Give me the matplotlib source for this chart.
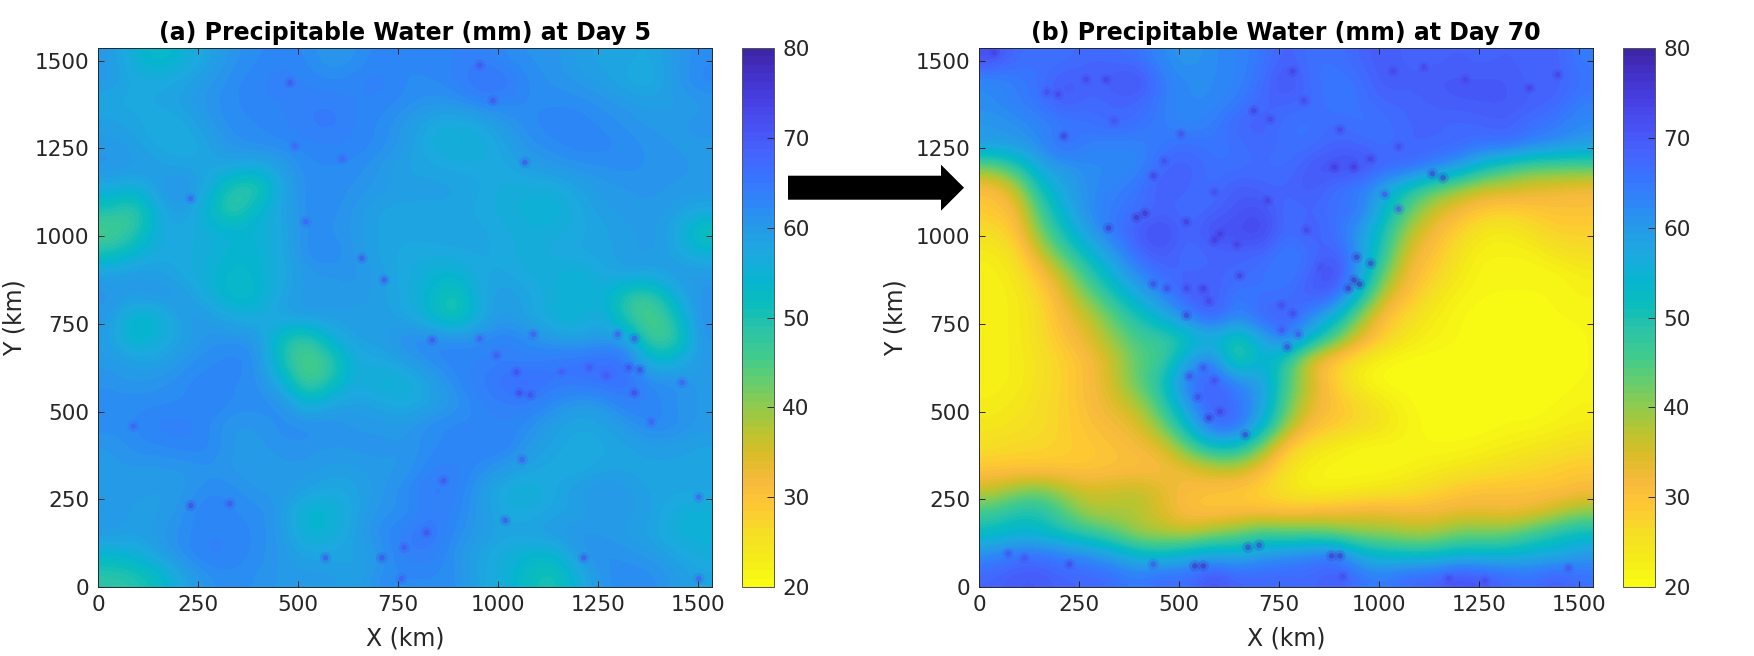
import numpy as np
import matplotlib
matplotlib.use('Agg')
import matplotlib.pyplot as plt
from matplotlib.colors import LinearSegmentedColormap
from matplotlib.patches import FancyArrow
from matplotlib.transforms import IdentityTransform

# coarse fields, top row first (mm), cell size about 61 km
pw_day5 = [
    [60, 55, 52, 55, 58, 61, 62, 63, 62, 60, 61, 63, 62, 63, 63, 64, 62, 61, 61, 59, 58, 58, 57, 60, 62],
    [60, 57, 57, 58, 60, 62, 63, 64, 63, 62, 63, 64, 62, 62, 63, 66, 66, 62, 61, 60, 59, 57, 56, 60, 63],
    [57, 57, 58, 59, 61, 62, 63, 63, 64, 64, 63, 63, 62, 61, 61, 63, 63, 62, 62, 62, 61, 60, 59, 59, 60],
    [59, 58, 56, 57, 60, 62, 62, 63, 64, 65, 63, 62, 60, 57, 56, 57, 60, 62, 63, 63, 62, 61, 60, 60, 61],
    [60, 59, 57, 56, 58, 61, 62, 62, 63, 63, 63, 62, 60, 56, 55, 55, 58, 61, 62, 63, 63, 62, 61, 60, 60],
    [61, 60, 59, 58, 58, 58, 56, 59, 62, 62, 62, 60, 58, 58, 57, 57, 57, 59, 60, 61, 61, 62, 61, 61, 60],
    [57, 55, 60, 62, 57, 48, 47, 58, 62, 62, 61, 60, 59, 59, 59, 58, 56, 56, 56, 58, 60, 60, 61, 60, 60],
    [50, 46, 57, 60, 53, 46, 54, 58, 62, 62, 60, 58, 58, 58, 58, 57, 56, 55, 54, 57, 59, 60, 60, 59, 58],
    [44, 48, 57, 57, 56, 55, 55, 57, 62, 61, 60, 58, 58, 58, 59, 58, 57, 56, 56, 57, 58, 59, 60, 58, 49],
    [50, 54, 57, 57, 56, 54, 54, 57, 62, 63, 60, 58, 57, 57, 57, 58, 57, 56, 57, 58, 58, 59, 60, 58, 55],
    [59, 60, 59, 57, 55, 53, 54, 57, 60, 60, 61, 59, 57, 55, 54, 57, 58, 56, 56, 54, 57, 59, 58, 60, 60],
    [61, 60, 61, 60, 56, 52, 53, 58, 60, 60, 60, 59, 57, 54, 48, 57, 60, 58, 56, 54, 56, 48, 46, 56, 61],
    [60, 52, 54, 60, 60, 57, 56, 59, 60, 59, 59, 59, 58, 54, 48, 56, 60, 58, 55, 54, 58, 48, 43, 50, 62],
    [59, 52, 56, 58, 61, 61, 61, 50, 46, 56, 59, 59, 62, 63, 62, 62, 64, 62, 60, 58, 60, 60, 45, 46, 61],
    [60, 59, 58, 61, 62, 63, 62, 50, 43, 47, 57, 57, 59, 62, 63, 63, 64, 63, 65, 66, 67, 66, 54, 55, 60],
    [61, 60, 61, 62, 63, 62, 62, 56, 44, 50, 57, 54, 55, 58, 62, 64, 66, 68, 65, 65, 66, 67, 62, 62, 60],
    [62, 62, 62, 62, 64, 62, 62, 62, 54, 58, 59, 58, 56, 58, 60, 63, 64, 64, 62, 60, 60, 64, 63, 61, 60],
    [62, 62, 64, 64, 62, 60, 60, 62, 62, 62, 60, 60, 60, 62, 63, 62, 63, 62, 59, 57, 58, 60, 63, 62, 60],
    [60, 62, 62, 63, 63, 60, 60, 61, 61, 60, 61, 61, 60, 62, 62, 63, 64, 60, 58, 57, 57, 58, 59, 59, 58],
    [60, 60, 60, 60, 61, 60, 59, 60, 60, 59, 59, 60, 60, 63, 64, 62, 60, 58, 57, 56, 58, 58, 58, 58, 58],
    [60, 60, 59, 60, 62, 62, 60, 60, 59, 57, 58, 60, 62, 65, 64, 60, 56, 55, 57, 60, 61, 60, 58, 58, 58],
    [60, 59, 59, 61, 64, 62, 62, 60, 53, 54, 58, 61, 61, 64, 63, 60, 57, 56, 58, 58, 60, 60, 59, 56, 55],
    [60, 59, 60, 62, 63, 63, 62, 60, 54, 55, 59, 62, 64, 66, 62, 60, 58, 59, 60, 61, 60, 59, 58, 55, 55],
    [54, 55, 59, 62, 64, 63, 62, 60, 58, 58, 58, 60, 64, 64, 61, 58, 56, 54, 53, 60, 62, 61, 60, 58, 56],
    [48, 49, 52, 58, 61, 62, 61, 60, 60, 60, 58, 62, 62, 62, 62, 58, 56, 52, 49, 55, 61, 62, 62, 60, 58],
]
pw_day70 = [
    [72, 67, 66, 66, 68, 67, 66, 62, 60, 62, 63, 65, 69, 66, 66, 68, 70, 68, 68, 69, 68, 69, 68, 69, 64],
    [62, 64, 66, 70, 68, 70, 72, 64, 62, 62, 63, 66, 72, 66, 65, 66, 70, 69, 70, 70, 70, 70, 68, 69, 66],
    [62, 64, 66, 70, 67, 68, 68, 64, 62, 62, 64, 68, 68, 68, 64, 66, 68, 68, 69, 70, 70, 70, 69, 68, 64],
    [60, 61, 63, 64, 66, 68, 66, 64, 62, 64, 68, 69, 66, 65, 68, 65, 66, 68, 68, 67, 68, 69, 66, 65, 62],
    [60, 60, 62, 68, 63, 63, 63, 65, 67, 65, 66, 68, 66, 66, 68, 68, 66, 68, 68, 68, 66, 67, 64, 62, 60],
    [42, 48, 58, 60, 62, 62, 62, 68, 69, 66, 66, 67, 66, 70, 72, 72, 68, 68, 64, 60, 52, 47, 44, 44, 44],
    [30, 36, 52, 58, 62, 63, 66, 70, 68, 66, 70, 68, 68, 70, 66, 64, 58, 50, 44, 40, 36, 36, 34, 33, 32],
    [29, 31, 46, 56, 62, 65, 66, 68, 66, 68, 70, 72, 66, 68, 66, 66, 54, 44, 36, 32, 29, 28, 29, 30, 30],
    [26, 29, 42, 52, 60, 65, 70, 73, 67, 72, 72, 74, 66, 70, 66, 60, 50, 38, 32, 28, 24, 23, 26, 28, 28],
    [23, 26, 36, 46, 54, 60, 68, 70, 66, 68, 68, 68, 64, 66, 70, 60, 48, 34, 30, 25, 22, 22, 22, 25, 26],
    [22, 24, 30, 38, 48, 56, 62, 68, 68, 68, 68, 66, 64, 68, 74, 60, 42, 32, 28, 24, 21, 21, 21, 21, 23],
    [22, 23, 27, 34, 42, 50, 57, 62, 70, 70, 64, 66, 66, 70, 68, 52, 36, 30, 25, 22, 21, 21, 21, 21, 22],
    [22, 23, 26, 32, 36, 44, 50, 56, 62, 70, 62, 68, 70, 62, 54, 40, 30, 26, 23, 21, 20, 20, 20, 21, 21],
    [22, 23, 26, 30, 34, 40, 46, 46, 50, 54, 48, 56, 66, 54, 44, 34, 28, 24, 22, 21, 20, 20, 20, 20, 21],
    [22, 23, 25, 28, 31, 36, 44, 46, 58, 66, 44, 56, 48, 33, 28, 24, 21, 20, 20, 20, 20, 20, 20, 20, 21],
    [22, 23, 25, 28, 31, 36, 44, 50, 66, 70, 63, 60, 46, 36, 28, 22, 20, 20, 20, 20, 20, 20, 20, 20, 21],
    [23, 24, 26, 28, 31, 34, 38, 48, 60, 70, 66, 60, 44, 34, 30, 27, 24, 21, 20, 20, 20, 20, 20, 21, 22],
    [24, 25, 26, 28, 30, 32, 34, 42, 54, 68, 68, 56, 40, 31, 29, 27, 25, 22, 20, 20, 20, 21, 21, 22, 23],
    [26, 27, 27, 28, 29, 30, 32, 34, 44, 52, 52, 42, 29, 25, 23, 21, 21, 21, 21, 21, 22, 23, 24, 25, 26],
    [29, 29, 29, 29, 29, 30, 30, 31, 33, 36, 37, 32, 25, 22, 21, 21, 21, 22, 23, 24, 25, 26, 27, 28, 29],
    [36, 40, 42, 38, 35, 36, 37, 34, 31, 30, 29, 27, 24, 22, 22, 23, 24, 25, 27, 29, 30, 30, 30, 30, 31],
    [46, 50, 50, 44, 38, 38, 38, 34, 30, 29, 30, 30, 30, 31, 32, 33, 33, 32, 32, 33, 33, 32, 33, 36, 40],
    [52, 54, 53, 50, 47, 44, 38, 38, 36, 40, 42, 46, 44, 44, 42, 40, 40, 38, 38, 42, 42, 42, 46, 50, 52],
    [62, 66, 66, 64, 62, 58, 54, 52, 56, 58, 56, 60, 62, 64, 66, 56, 53, 52, 52, 54, 54, 54, 56, 56, 60],
    [68, 70, 70, 68, 68, 67, 64, 68, 66, 72, 68, 68, 68, 67, 70, 66, 64, 68, 68, 72, 70, 68, 66, 70, 66],
]

# moist spots too small for the grids (km, km, mm)
spots5_x = [955, 480, 988, 1068, 232, 520, 660, 716, 836, 955, 997, 1047, 1054, 1082, 1159, 1229, 1271, 1328, 1356, 1342, 1300, 1342, 1384, 1089, 88, 232, 330, 569, 710, 759, 766, 822, 864, 1019, 1215, 1503, 1503, 1061, 1461, 611, 492]
spots5_y = [1487, 1437, 1386, 1210, 1107, 1041, 937, 875, 704, 708, 660, 613, 553, 547, 613, 625, 601, 625, 619, 553, 720, 708, 470, 720, 458, 232, 238, 83, 83, 24, 113, 155, 303, 190, 83, 256, 24, 363, 583, 1220, 1256]
spots5_v = [72, 72, 72, 72, 70, 70, 72, 72, 72, 70, 71, 73, 74, 73, 70, 71, 71, 73, 74, 74, 71, 72, 70, 71, 70, 74, 72, 72, 73, 71, 71, 73, 72, 72, 72, 70, 70, 71, 70, 69, 69]
spots70_x = [38, 170, 198, 268, 317, 338, 212, 436, 463, 505, 394, 415, 324, 519, 589, 603, 645, 589, 652, 436, 470, 519, 561, 575, 519, 729, 687, 722, 785, 813, 903, 889, 938, 980, 1050, 1134, 1161, 819, 945, 980, 938, 924, 952, 854, 757, 785, 757, 771, 799, 1050, 1015, 1378, 1448, 1113, 1036, 1217, 526, 547, 575, 603, 666, 561, 589, 73, 114, 226, 561, 540, 673, 701, 882, 903, 910, 1266, 1175, 1475, 436]
spots70_y = [1523, 1410, 1404, 1446, 1446, 1327, 1285, 1172, 1214, 1291, 1053, 1065, 1023, 1041, 1125, 1006, 976, 988, 887, 863, 851, 851, 851, 815, 774, 1333, 1357, 1101, 1470, 1386, 1303, 1196, 1196, 1220, 1255, 1178, 1166, 1017, 940, 922, 875, 851, 863, 910, 803, 779, 732, 684, 720, 1077, 1119, 1422, 1460, 1482, 1470, 1446, 601, 541, 482, 500, 434, 625, 589, 95, 83, 65, 60, 60, 113, 119, 89, 89, 30, 18, 24, 54, 65]
spots70_v = [75, 73, 74, 74, 75, 72, 76, 75, 73, 73, 78, 78, 77, 76, 73, 76, 75, 76, 75, 74, 74, 74, 75, 74, 76, 74, 75, 75, 75, 74, 74, 76, 76, 75, 73, 76, 76, 74, 77, 76, 78, 78, 78, 72, 73, 74, 72, 75, 72, 72, 72, 75, 75, 74, 74, 74, 73, 74, 77, 75, 76, 72, 73, 72, 72, 74, 78, 78, 76, 75, 77, 77, 73, 73, 73, 72, 72]

ticks = [0, 250, 500, 750, 1000, 1250, 1500]
cbar_ticks = [20, 30, 40, 50, 60, 70, 80]
titles = ['(a) Precipitable Water (mm) at Day 5', '(b) Precipitable Water (mm) at Day 70']

# parula, flipped below
parula = [(0.2422, 0.1504, 0.6603), (0.2647, 0.1978, 0.7952), (0.2783, 0.2559, 0.8991),
          (0.2810, 0.3228, 0.9579), (0.2699, 0.3892, 0.9906), (0.2206, 0.4603, 0.9973),
          (0.1786, 0.5289, 0.9682), (0.1460, 0.6091, 0.9079), (0.1113, 0.6635, 0.8763),
          (0.0297, 0.7082, 0.8163), (0.0433, 0.7411, 0.7394), (0.1717, 0.7670, 0.6554),
          (0.2470, 0.7918, 0.5567), (0.3909, 0.8029, 0.4354), (0.5616, 0.7942, 0.3045),
          (0.7242, 0.7698, 0.1910), (0.8634, 0.7406, 0.1596), (0.9728, 0.7298, 0.2394),
          (0.9952, 0.7861, 0.1991), (0.9633, 0.8678, 0.1490), (0.9598, 0.9218, 0.0948),
          (0.9769, 0.9839, 0.0805)]
cmap = LinearSegmentedColormap.from_list('parula_r', parula[::-1], N=64)

W, H = 1754., 656.
fig = plt.figure(figsize=(W / 100, H / 100), dpi=100)
gray = '#262626'


def panel(left, cb_left, field, sx, sy, sv, title):
    ax = fig.add_axes([left / W, 1 - 587 / H, 614 / W, 539 / H])
    im = ax.imshow(np.array(field, dtype=float), extent=[0, 1536, 0, 1536], origin='upper', aspect='auto',
                   cmap=cmap, vmin=20, vmax=80, interpolation='bicubic')
    # soft halo, then a small core, so the spots read as blurred patches
    ax.scatter(sx, sy, c=sv, s=70, cmap=cmap, vmin=20, vmax=80, linewidths=0, alpha=0.22)
    ax.scatter(sx, sy, c=sv, s=16, cmap=cmap, vmin=20, vmax=80, linewidths=0, alpha=0.55)
    ax.set_xlim(0, 1536)
    ax.set_ylim(0, 1536)
    ax.set_xticks(ticks)
    ax.set_yticks(ticks)
    ax.tick_params(direction='in', top=True, right=True, length=4, width=0.7, labelsize=15.5,
                   color=gray, labelcolor=gray, pad=6)
    ax.set_xlabel('X (km)', fontsize=17, color=gray, labelpad=8)
    ax.set_ylabel('Y (km)', fontsize=17, color=gray, labelpad=6)
    ax.set_title(title, fontsize=17, fontweight='bold', pad=6)
    for s in ax.spines.values():
        s.set_color(gray)
        s.set_linewidth(0.7)
    cax = fig.add_axes([cb_left / W, 1 - 587 / H, 32 / W, 539 / H])
    cb = fig.colorbar(im, cax=cax, ticks=cbar_ticks)
    cb.ax.tick_params(direction='in', length=5, width=0.7, labelsize=15.5, color=gray, labelcolor=gray, pad=6)
    cb.outline.set_edgecolor('#555555')
    cb.outline.set_linewidth(0.7)


panel(98, 742, pw_day5, spots5_x, spots5_y, spots5_v, titles[0])
panel(979, 1623, pw_day70, spots70_x, spots70_y, spots70_v, titles[1])

arrow = FancyArrow(788, H - 187.7, 176, 0, width=24, head_width=46, head_length=23,
                   length_includes_head=True, color='black', linewidth=0, transform=IdentityTransform())
fig.add_artist(arrow)

fig.savefig('out.png', dpi=100)
